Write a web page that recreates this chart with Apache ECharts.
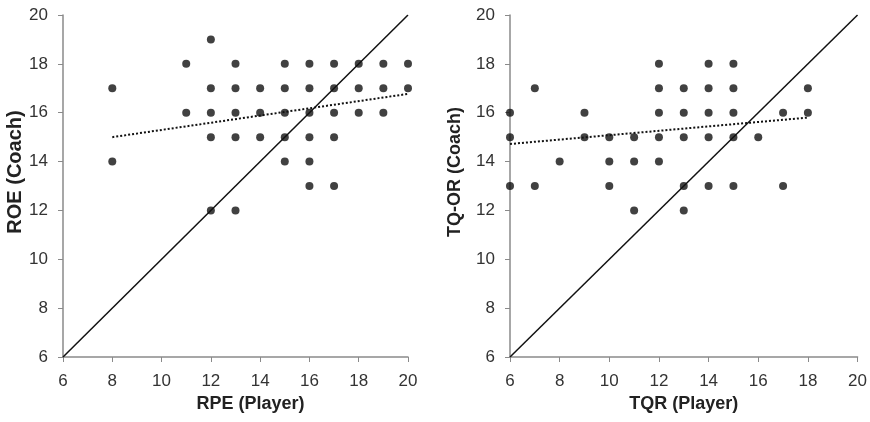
<!DOCTYPE html>
<html>
<head>
<meta charset="utf-8">
<script src="https://cdn.jsdelivr.net/npm/echarts@6/dist/echarts.min.js"></script>
<style>
  html, body { margin: 0; padding: 0; background: #fff; }
  #chart { width: 870px; height: 422px; }
</style>
</head>
<body>
<div id="chart"></div>
<script>
// left panel: RPE (player) vs ROE (coach)
var rpePoints = [
  [8, 17], [8, 14],
  [11, 18], [11, 16],
  [12, 19], [12, 17], [12, 16], [12, 15], [12, 12],
  [13, 18], [13, 17], [13, 16], [13, 15], [13, 12],
  [14, 17], [14, 16], [14, 15],
  [15, 18], [15, 17], [15, 16], [15, 15], [15, 14],
  [16, 18], [16, 17], [16, 16], [16, 15], [16, 14], [16, 13],
  [17, 18], [17, 17], [17, 16], [17, 15], [17, 13],
  [18, 18], [18, 17], [18, 16],
  [19, 18], [19, 17], [19, 16],
  [20, 18], [20, 17]
];
var rpeTrend = [[8, 15.0], [20, 16.77]];

// right panel: TQR (player) vs TQ-OR (coach)
var tqrPoints = [
  [6, 16], [6, 15], [6, 13],
  [7, 17], [7, 13],
  [8, 14],
  [9, 16], [9, 15],
  [10, 15], [10, 14], [10, 13],
  [11, 15], [11, 14], [11, 12],
  [12, 18], [12, 17], [12, 16], [12, 15], [12, 14],
  [13, 17], [13, 16], [13, 15], [13, 13], [13, 12],
  [14, 18], [14, 17], [14, 16], [14, 15], [14, 13],
  [15, 18], [15, 17], [15, 16], [15, 15], [15, 13],
  [16, 15],
  [17, 16], [17, 13],
  [18, 17], [18, 16]
];
var tqrTrend = [[6, 14.72], [18, 15.8]];

var identityLine = [[6, 6], [20, 20]];
var axisMin = 6, axisMax = 20, axisStep = 2;

var chart = echarts.init(document.getElementById("chart"));

function xAxisFor(idx, title, shift) {
  return {
    gridIndex: idx,
    type: "value",
    min: axisMin, max: axisMax, interval: axisStep,
    name: title,
    nameLocation: "middle",
    nameGap: 37,
    nameTextStyle: {
      fontFamily: "Liberation Sans", fontSize: 18, fontWeight: "bold", color: "#222",
      padding: [0, 0, 0, shift]
    },
    axisLine: { onZero: false, lineStyle: { color: "#8a8a8a", width: 1.5 } },
    axisTick: { show: true, length: 5, lineStyle: { color: "#8a8a8a" } },
    axisLabel: { fontFamily: "Liberation Sans", fontSize: 17, color: "#333", margin: 16 },
    splitLine: { show: false }
  };
}

function yAxisFor(idx, title, size, gap, shift) {
  return {
    gridIndex: idx,
    type: "value",
    min: axisMin, max: axisMax, interval: axisStep,
    name: title,
    nameLocation: "middle",
    nameGap: gap,
    nameTextStyle: {
      fontFamily: "Liberation Sans", fontSize: size, fontWeight: "bold", color: "#222",
      padding: [0, 0, 0, shift]
    },
    axisLine: { onZero: false, lineStyle: { color: "#8a8a8a", width: 1.5 } },
    axisTick: { show: true, length: 5, lineStyle: { color: "#8a8a8a" } },
    axisLabel: { fontFamily: "Liberation Sans", fontSize: 17, color: "#333", margin: 15 },
    splitLine: { show: false }
  };
}

function dots(idx, data) {
  return {
    type: "scatter", xAxisIndex: idx, yAxisIndex: idx,
    data: data, symbolSize: 8, itemStyle: { color: "#111" }, z: 3
  };
}

function line(idx, data, kind, width) {
  return {
    type: "line", xAxisIndex: idx, yAxisIndex: idx,
    data: data, showSymbol: false, silent: true,
    lineStyle: { color: "#111", width: width, type: kind }, z: 2
  };
}

var option = {
  animation: false,
  grid: [
    { left: 63, top: 15, width: 345, height: 342 },
    { left: 510, top: 15, width: 348, height: 342 }
  ],
  xAxis: [xAxisFor(0, "RPE (Player)", 30), xAxisFor(1, "TQR (Player)", 0)],
  yAxis: [yAxisFor(0, "ROE (Coach)", 20, 29, 28), yAxisFor(1, "TQ-OR (Coach)", 18, 46, 28)],
  series: [
    line(0, identityLine, "solid", 1.5),
    line(0, rpeTrend, [2, 2], 2),
    dots(0, rpePoints),
    line(1, identityLine, "solid", 1.5),
    line(1, tqrTrend, [2, 2], 2),
    dots(1, tqrPoints)
  ]
};

chart.setOption(option);
</script>
</body>
</html>
